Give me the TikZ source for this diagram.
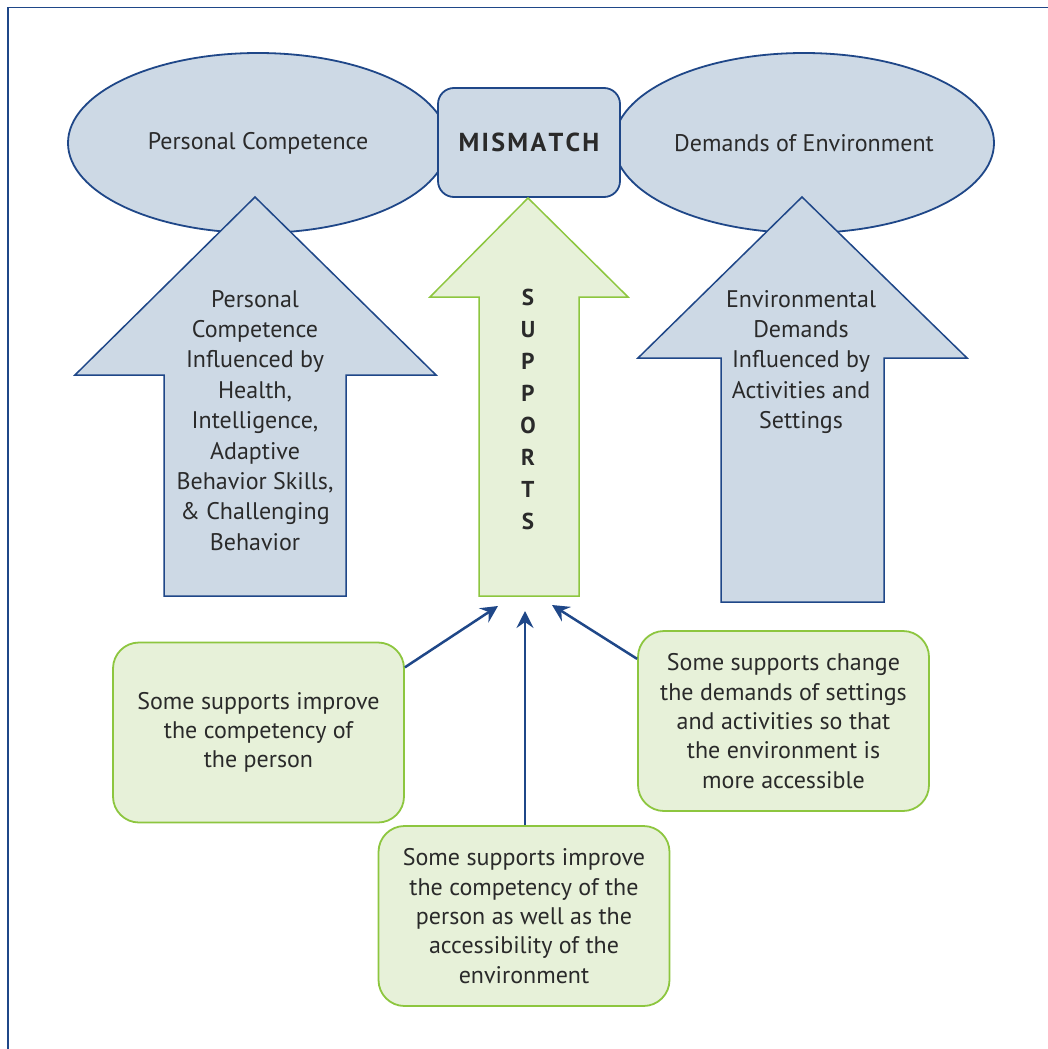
\documentclass[tikz,border=0pt]{standalone}
\usepackage{fontspec}
\setmainfont{PT Sans}
\usetikzlibrary{shapes.geometric,arrows.meta,calc}
\definecolor{bfill}{HTML}{CDD9E5}
\definecolor{bline}{HTML}{1F4788}
\definecolor{gfill}{HTML}{E7F1D9}
\definecolor{gline}{HTML}{8DC63F}
\definecolor{txt}{HTML}{2A2A2A}
\tikzset{
  x=1pt,y=-1pt,
  ell/.style={ellipse,draw=bline,fill=bfill,line width=1.8pt,inner sep=0pt,minimum width=380pt,minimum height=180pt,text=txt,font=\fontsize{24}{29}\selectfont},
  mism/.style={draw=bline,fill=bfill,line width=1.8pt,rounded corners=16pt,minimum width=182pt,minimum height=109pt,inner sep=0pt,text=txt,font=\fontsize{26}{30}\selectfont\bfseries},
  barrow/.style={draw=bline,fill=bfill,line width=1.5pt},
  garrow/.style={draw=gline,fill=gfill,line width=1.5pt},
  atext/.style={align=center,text=txt,inner sep=0pt,anchor=north,font=\fontsize{24}{30.4}\selectfont},
  gbox/.style={draw=gline,fill=gfill,line width=1.8pt,rounded corners=26pt,minimum width=291pt,minimum height=180pt,inner sep=0pt,align=center,text=txt,font=\fontsize{24}{29.3}\selectfont},
  conn/.style={draw=bline,line width=2.5pt,-{Stealth[length=17pt,width=17pt,inset=6pt]}},
}
\begin{document}
\begin{tikzpicture}
\useasboundingbox (0,0) rectangle (1048,1049);
\fill[white] (0,0) rectangle (1048,1049);
\draw[bline,line width=1.5pt] (8,1049) -- (8,7.5) -- (1048,7.5);
% ellipses
\node[ell] (pc) at (258,143) {\raisebox{-2pt}{Personal Competence}};
\node[ell] (de) at (804,143) {Demands of Environment};
\node[mism] (mm) at (529,142.5) {M\kern2.3pt I\kern2.3pt S\kern2.3pt M\kern2.3pt A\kern2.3pt T\kern2.3pt C\kern2.3pt H};
% left arrow
\draw[barrow] (255,197) -- (436,375) -- (346,375) -- (346,596) -- (164,596) -- (164,375) -- (75,375) -- cycle;
% green arrow
\draw[garrow] (528,198) -- (628,297) -- (579,297) -- (579,596) -- (479,596) -- (479,297) -- (430,297) -- cycle;
% right arrow
\draw[barrow] (802,197) -- (967,358) -- (884,358) -- (884,602) -- (721,602) -- (721,358) -- (638,358) -- cycle;
\node[atext] (lt) at (255,290) {Personal\\Competence\\Influenced by\\Health,\\Intelligence,\\Adaptive\\Behavior Skills,\\\& Challenging\\Behavior};
\node[atext] (rt) at (801,290) {Environmental\\Demands\\Influenced by\\Activities and\\Settings};
\node[atext,font=\fontsize{23}{32}\selectfont\bfseries] (st) at (528,289) {S\\U\\P\\P\\O\\R\\T\\S};
% boxes
\node[gbox] (b1) at (258.5,732.5) {Some supports improve\\the competency of\\the person};
\node[gbox] (b3) at (783.5,721) {Some supports change\\the demands of settings\\and activities so that\\the environment is\\more accessible};
\node[gbox] (b2) at (524,916) {Some supports improve\\the competency of the\\person as well as the\\accessibility of the\\environment};
\coordinate (t1) at (498,606);
\coordinate (t2) at (525,611);
\coordinate (t3) at (552,605);
\draw[conn] (b1.24.5) -- (t1);
\draw[conn] (b2.north -| t2) -- (t2);
\draw[conn] (b3.157.2) -- (t3);
\end{tikzpicture}
\end{document}
